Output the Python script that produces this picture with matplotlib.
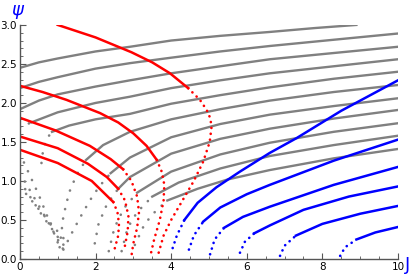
import numpy as np
import matplotlib.pyplot as plt

# (J, psi) points; each curve = dotted start + solid rest
gray_dotted = [
    [],
    [],
    [],
    [(0, 1.69), (0.15, 1.72), (0.3, 1.75)],
    [(0.57, 1.23), (0.62, 1.42), (0.72, 1.55), (0.85, 1.63)],
    [(1.05, 0.15), (1.15, 0.55), (1.3, 0.85), (1.5, 1.08), (1.75, 1.27)],
    [(1.15, 0.12), (1.37, 0.33), (1.59, 0.53), (1.85, 0.75), (2.1, 0.93), (2.4, 1.1)],
    [(1.98, 0.2), (2.08, 0.45), (2.3, 0.7), (2.6, 0.9)],
    [(2.35, 0.1), (2.5, 0.4), (2.75, 0.65), (3.1, 0.85)],
    [(2.69, 0.1), (2.85, 0.4), (3.1, 0.6), (3.5, 0.8)],
    [(3.04, 0.18), (3.3, 0.45), (3.6, 0.62), (3.9, 0.75)],
]
gray_solid = [
    [(0, 2.45), (0.5, 2.52), (1, 2.57), (2, 2.66), (2.91, 2.72), (4, 2.80),
     (5.3, 2.86), (6.61, 2.91), (7.8, 2.96), (8.9, 3.0)],
    [(0, 2.19), (0.5, 2.27), (1, 2.33), (2, 2.44), (2.91, 2.51), (4, 2.58),
     (5.3, 2.66), (6.61, 2.73), (8.3, 2.81), (10, 2.89)],
    [(0, 1.92), (0.5, 2.03), (1, 2.11), (2, 2.21), (2.91, 2.29), (4, 2.38),
     (5.3, 2.47), (6.61, 2.56), (8.3, 2.64), (10, 2.72)],
    [(0.3, 1.75), (1, 1.88), (2, 2.0), (2.91, 2.08), (4, 2.19), (5.3, 2.29),
     (6.61, 2.38), (8.3, 2.47), (10, 2.56)],
    [(0.85, 1.63), (1.3, 1.71), (2, 1.79), (2.91, 1.86), (4, 1.99), (5.3, 2.10),
     (6.61, 2.20), (8.3, 2.31), (10, 2.40)],
    [(1.75, 1.27), (2.2, 1.46), (2.91, 1.63), (4, 1.79), (5.3, 1.92),
     (6.61, 2.03), (8.3, 2.14), (10, 2.23)],
    [(2.4, 1.1), (2.91, 1.30), (4, 1.56), (5.3, 1.73), (6.61, 1.85),
     (8.3, 1.96), (10, 2.06)],
    [(2.6, 0.9), (2.91, 1.05), (4, 1.35), (5.3, 1.54), (6.61, 1.67),
     (8.3, 1.80), (10, 1.91)],
    [(3.1, 0.85), (4, 1.12), (5.3, 1.34), (6.61, 1.49), (8.3, 1.63), (10, 1.74)],
    [(3.5, 0.8), (4.2, 0.98), (5.3, 1.16), (6.61, 1.32), (8.3, 1.46), (10, 1.58)],
    [(3.9, 0.75), (4.7, 0.9), (5.5, 1.02), (6.61, 1.14), (8.3, 1.29), (10, 1.41)],
]
# V-shaped gray branches from the psi axis
gray_v = [
    [(0, 1.35), (0.5, 0.82), (1.05, 0.15)],
    [(0, 1.10), (0.6, 0.6), (1.15, 0.12)],
    [(0, 1.00), (0.6, 0.55), (1.2, 0.15)],
    [(0, 0.93), (0.65, 0.55), (1.27, 0.2)],
]

red_solid = [
    [(1.0, 3.0), (2.0, 2.84), (2.95, 2.65), (3.5, 2.52), (3.97, 2.38), (4.45, 2.19)],
    [(0, 2.22), (0.6, 2.14), (1.23, 2.04), (2.12, 1.87), (2.6, 1.75), (3.0, 1.61),
     (3.35, 1.45), (3.62, 1.27)],
    [(0, 1.81), (0.93, 1.65), (1.85, 1.45), (2.4, 1.28), (2.73, 1.15)],
    [(0, 1.57), (1.0, 1.42), (1.8, 1.22), (2.3, 1.05), (2.6, 0.9)],
    [(0, 1.40), (1.0, 1.23), (1.9, 1.0), (2.47, 0.73)],
]
red_dotted = [
    [(4.45, 2.19), (4.76, 2.04), (4.94, 1.91), (5.03, 1.81), (5.07, 1.70),
     (5.02, 1.5), (4.85, 1.25), (4.6, 1.0), (4.3, 0.75), (4.0, 0.5),
     (3.8, 0.3), (3.67, 0.08)],
    [(3.62, 1.27), (3.75, 1.12), (3.82, 0.95), (3.8, 0.75), (3.7, 0.5),
     (3.55, 0.25), (3.45, 0.04)],
    [(2.73, 1.15), (2.95, 1.0), (3.1, 0.8), (3.15, 0.6), (3.1, 0.4),
     (3.0, 0.2), (2.95, 0.04)],
    [(2.6, 0.9), (2.78, 0.75), (2.87, 0.55), (2.85, 0.35), (2.75, 0.1)],
    [(2.47, 0.73), (2.58, 0.6), (2.62, 0.45), (2.6, 0.3), (2.5, 0.12)],
]

blue_dotted = [
    [(4.04, 0.14), (4.15, 0.3), (4.35, 0.5)],
    [(4.47, 0.12), (4.6, 0.3), (4.85, 0.48)],
    [(5.03, 0.06), (5.15, 0.25), (5.4, 0.4)],
    [(5.82, 0.08), (5.95, 0.22), (6.2, 0.33)],
    [(6.88, 0.04), (7.0, 0.17), (7.3, 0.3)],
    [(8.47, 0.04), (8.6, 0.15), (8.9, 0.25)],
]
blue_solid = [
    [(4.35, 0.5), (4.7, 0.72), (5.2, 0.92), (5.82, 1.12), (6.61, 1.36),
     (7.32, 1.55), (8.5, 1.9), (10, 2.29)],
    [(4.85, 0.48), (5.3, 0.66), (6.0, 0.83), (6.61, 0.95), (8.3, 1.26), (10, 1.53)],
    [(5.4, 0.4), (5.9, 0.54), (6.61, 0.67), (8.3, 0.95), (10, 1.18)],
    [(6.2, 0.33), (6.61, 0.43), (7.5, 0.63), (8.7, 0.8), (10, 0.93)],
    [(7.3, 0.3), (8.0, 0.45), (9.0, 0.58), (10, 0.68)],
    [(8.9, 0.25), (9.4, 0.34), (10, 0.41)],
]

fig = plt.figure(figsize=(4.15, 2.77), dpi=100)
ax = fig.add_axes([0.048, 0.065, 0.911, 0.845])

gray = '#808080'
red = '#ff0000'
blue = '#0000ff'
dots = dict(linestyle=(0, (0.05, 2.2)), dash_capstyle='round', lw=1.9)
sparse = dict(linestyle=(0, (0.05, 3.6)), dash_capstyle='round', lw=1.9)


def draw(curves, color, **kw):
    for c in curves:
        if len(c) < 2:
            continue
        a = np.array(c)
        ax.plot(a[:, 0], a[:, 1], color=color, **kw)


draw(gray_solid, gray, lw=1.7)
draw(gray_dotted, gray, **sparse)
draw(gray_v, gray, **sparse)
draw(red_solid, red, lw=1.8)
draw(red_dotted, red, **dots)
draw(blue_solid, blue, lw=1.8)
draw(blue_dotted, blue, **dots)

ax.set_xlim(0, 10)
ax.set_ylim(0, 3)
for s in ['top', 'right']:
    ax.spines[s].set_visible(False)
for s in ['left', 'bottom']:
    ax.spines[s].set_color('#555555')
    ax.spines[s].set_linewidth(1.0)
ax.set_xticks(np.arange(0, 11, 2))
ax.set_yticks(np.arange(0, 3.01, 0.5))
ax.set_yticklabels(['0.0', '0.5', '1.0', '1.5', '2.0', '2.5', '3.0'])
ax.set_xticks(np.arange(0, 10.01, 0.5), minor=True)
ax.set_yticks(np.arange(0, 3.01, 0.1), minor=True)
ax.tick_params(which='major', direction='in', length=4, width=0.8, color='#555555',
               labelsize=7.5, pad=2)
ax.tick_params(which='minor', direction='in', length=2, width=0.6, color='#555555')
fig.text(0.975, 0.045, 'J', color=blue, fontsize=13, ha='left', va='center')
fig.text(0.027, 0.955, r'$\psi$', color=blue, fontsize=13, ha='left', va='center')

fig.savefig('out.png', dpi=100)
